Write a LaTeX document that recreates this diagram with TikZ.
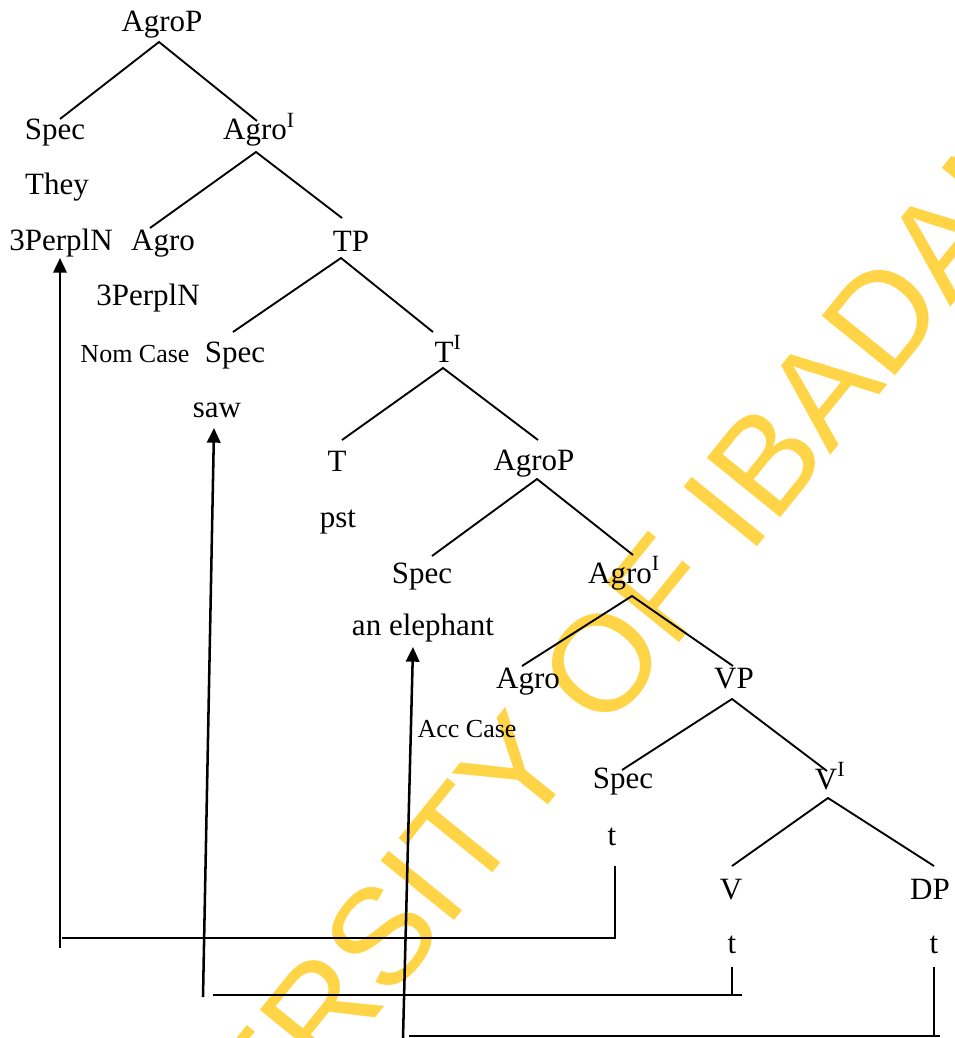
\documentclass[tikz,border=0pt]{standalone}
\usepackage{fontspec}
\setmainfont{Liberation Serif}
\newfontfamily\wmfont{Liberation Sans}
\usetikzlibrary{arrows.meta}
\definecolor{wmyellow}{RGB}{255,212,71}
\newcommand{\mainsz}{\fontsize{23.25pt}{28pt}\selectfont}
\newcommand{\smallsz}{\fontsize{19.5pt}{23pt}\selectfont}
\newcommand{\wmsz}{\fontsize{103pt}{118pt}\selectfont}
\begin{document}
\begin{tikzpicture}[x=0.75pt,y=-0.75pt,
  lbl/.style={anchor=base, inner sep=0pt, font=\mainsz},
  sml/.style={anchor=base, inner sep=0pt, font=\smallsz},
  branch/.style={line width=1.4pt},
  move/.style={line width=1.9pt},
  movearrow/.style={line width=1.9pt, -{Triangle[length=11pt,width=10pt]}}]
\useasboundingbox (0,0) rectangle (954,1038);
\begin{scope}
\clip (0,0) rectangle (954,1038);
\node[rotate=51, text=wmyellow, font=\wmfont\wmsz, inner sep=0pt] (wm) at (530,752) {UNIVERSITY OF IBADAN};
\end{scope}

% labels
\node[lbl] (n0) at (162,32) {AgroP};
\node[lbl] (n1) at (55,140) {Spec};
\node[lbl] (n2) at (259,140) {Agro\textsuperscript{I}};
\node[lbl] (n3) at (57,195) {They};
\node[lbl] (n4) at (61,250) {3PerplN};
\node[lbl] (n5) at (163,250) {Agro};
\node[lbl] (n6) at (351,251) {TP};
\node[lbl] (n7) at (148,305) {3PerplN};
\node[sml] (n8) at (135,362) {Nom Case};
\node[lbl] (n9) at (235,362) {Spec};
\node[lbl] (n10) at (448,362) {T\textsuperscript{I}};
\node[lbl] (n11) at (217,417) {saw};
\node[lbl] (n12) at (337,471) {T};
\node[lbl] (n13) at (534,470) {AgroP};
\node[lbl] (n14) at (338,527) {pst};
\node[lbl] (n15) at (422,583) {Spec};
\node[lbl] (n16) at (624,583) {Agro\textsuperscript{I}};
\node[lbl] (n17) at (423,635) {an elephant};
\node[lbl] (n18) at (528,688) {Agro};
\node[lbl] (n19) at (734,688) {VP};
\node[sml] (n20) at (467,737) {Acc Case};
\node[lbl] (n21) at (623,788) {Spec};
\node[lbl] (n22) at (830,789) {V\textsuperscript{I}};
\node[lbl] (n23) at (612,845) {t};
\node[lbl] (n24) at (731,899) {V};
\node[lbl] (n25) at (930,899) {DP};
\node[lbl] (n26) at (732,953) {t};
\node[lbl] (n27) at (934,953) {t};

% branches
\draw[branch] ([shift={(5,-21)}]n1.base) -- ([shift={(-3,10)}]n0.base) -- ([shift={(-2,-19)}]n2.base);
\draw[branch] ([shift={(-13,-22)}]n5.base) -- ([shift={(-3,12)}]n2.base) -- ([shift={(-9,-33)}]n6.base);
\draw[branch] ([shift={(-2,-30)}]n9.base) -- ([shift={(-10,7)}]n6.base) -- ([shift={(-15,-30)}]n10.base);
\draw[branch] ([shift={(5,-31)}]n12.base) -- ([shift={(-5,6)}]n10.base) -- ([shift={(4,-30)}]n13.base);
\draw[branch] ([shift={(10,-27)}]n15.base) -- ([shift={(3,9)}]n13.base) -- ([shift={(9,-28)}]n16.base);
\draw[branch] ([shift={(-6,-22)}]n18.base) -- ([shift={(8,13)}]n16.base) -- ([shift={(-1,-22)}]n19.base);
\draw[branch] ([shift={(-1,-18)}]n21.base) -- ([shift={(-2,11)}]n19.base) -- ([shift={(-3,-18)}]n22.base);
\draw[branch] ([shift={(1,-33)}]n24.base) -- ([shift={(-2,9)}]n22.base) -- ([shift={(4,-33)}]n25.base);

% movement lines
\coordinate (h1) at (62,938);
\coordinate (a1) at (60,948);
\draw[move] ([shift={(3,21)}]n23.base) |- (h1);
\draw[movearrow] (a1) -- ([shift={(-1,8)}]n4.base);

\coordinate (h2r) at (742,995);
\coordinate (h2l) at (213,995);
\coordinate (a2) at (203,997);
\draw[move] (h2r) -- (h2l);
\draw[move] ([shift={(0,14)}]n26.base) -- (n26.base |- h2l);
\draw[movearrow] (a2) -- ([shift={(-3,11)}]n11.base);

\coordinate (h3r) at (940,1036);
\coordinate (h3l) at (409,1036);
\coordinate (a3) at (403,1038);
\draw[move] (h3r) -- (h3l);
\draw[move] ([shift={(0,14)}]n27.base) -- (n27.base |- h3l);
\draw[movearrow] (a3) -- ([shift={(-10,12)}]n17.base);
\end{tikzpicture}
\end{document}
